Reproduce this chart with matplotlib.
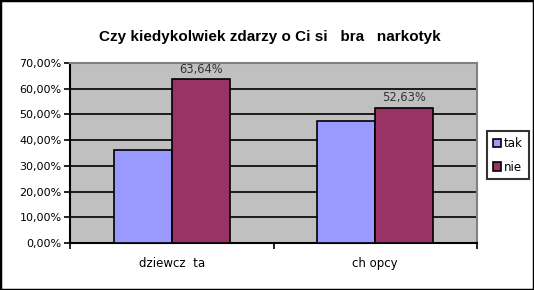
import matplotlib
matplotlib.use("Agg")
import matplotlib.pyplot as plt
from matplotlib.patches import Rectangle
from matplotlib.ticker import FuncFormatter, MultipleLocator

plt.rcParams['font.family'] = ['DejaVu Sans']

categories = ["dziewcz  ta", "ch opcy"]
series_names = ["tak", "nie"]
tak = [36.36, 47.37]
nie = [63.64, 52.63]
title = "Czy kiedykolwiek zdarzy o Ci si   bra   narkotyk"

fig = plt.figure(figsize=(5.34, 2.90), dpi=100)
fig.patch.set_facecolor("white")
fig.patches.append(Rectangle((0.0, 0.0), 1.0, 1.0, transform=fig.transFigure,
                             fill=False, edgecolor="black", linewidth=2.5, zorder=10))

ax = fig.add_axes([70/534, 47/290, 407/534, 180/290])
ax.set_facecolor("#C0C0C0")

w = 58/204
x = list(range(len(categories)))
ax.bar([i - w/2 for i in x], tak, width=w, color="#9999FF", edgecolor="black", linewidth=1.2, zorder=3, label=series_names[0])
bn = ax.bar([i + w/2 for i in x], nie, width=w, color="#993366", edgecolor="black", linewidth=1.2, zorder=3, label=series_names[1])
for rect, v in zip(bn, nie):
    ax.annotate(f"{v:.2f}%".replace(".", ","), (rect.get_x() + rect.get_width()/2, v),
                xytext=(0, 2.5), textcoords="offset points", ha="center", va="bottom",
                fontsize=8.3, color="#333333", zorder=5)

ax.set_xlim(-0.5, len(categories) - 0.5)
ax.set_ylim(0, 70)
ax.yaxis.set_major_locator(MultipleLocator(10))
ax.yaxis.set_major_formatter(FuncFormatter(lambda v, p: f"{v:.2f}%".replace(".", ",")))
ax.grid(axis="y", color="black", linewidth=1.2, zorder=1)
ax.set_axisbelow(True)

ax.set_xticks([-0.5, 0.5, 1.5])
ax.set_xticklabels([])
ax.set_xticks(x, minor=True)
ax.set_xticklabels(categories, minor=True)
ax.tick_params(axis="x", which="minor", length=0, pad=10, labelsize=8.5)
ax.tick_params(axis="x", which="major", direction="out", length=4, width=1.2)
ax.tick_params(axis="y", direction="out", length=4, width=1.2, labelsize=8, pad=2)

for s in ["left", "bottom"]:
    ax.spines[s].set_color("black")
    ax.spines[s].set_linewidth(1.5)
for s in ["top", "right"]:
    ax.spines[s].set_color("#808080")
    ax.spines[s].set_linewidth(1.5)

fig.text(270/534, 1 - 37/290, title, ha="center", va="center", fontsize=11,
         fontweight="bold", family="Liberation Sans")

leg = fig.legend(loc="upper left", bbox_to_anchor=(487/534, 1 - 131/290), frameon=True,
                 fontsize=8.5, handlelength=0.7, handleheight=0.7, handletextpad=0.25,
                 borderpad=0.5, labelspacing=0.9, fancybox=False, borderaxespad=0)
leg.get_frame().set_edgecolor("black")
leg.get_frame().set_linewidth(1.5)

fig.savefig("out.png", dpi=100)
